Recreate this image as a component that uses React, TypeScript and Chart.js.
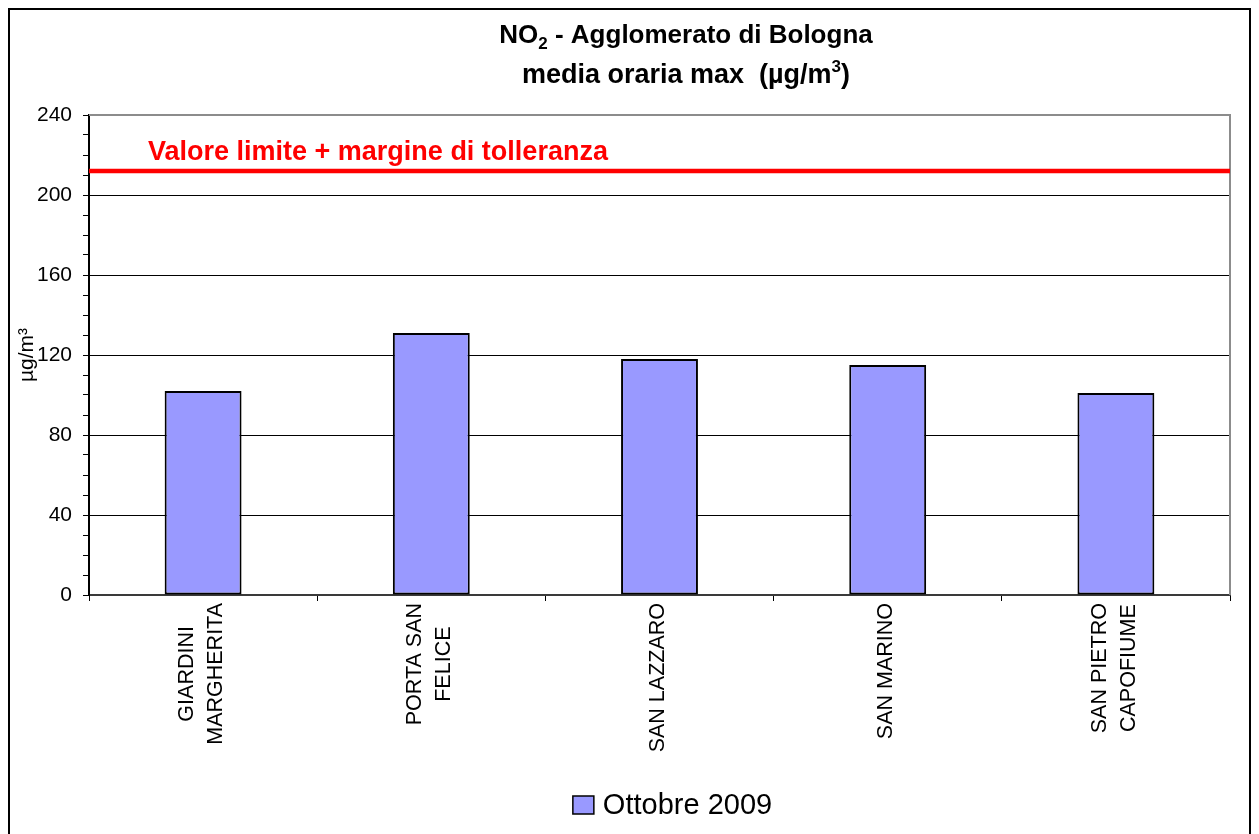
import React, { useEffect, useRef } from 'react';
import { Chart, registerables } from 'chart.js';

Chart.register(...registerables);

// ---- data ----
const categories: string[][] = [
  ['GIARDINI', 'MARGHERITA'],
  ['PORTA SAN', 'FELICE'],
  ['SAN LAZZARO'],
  ['SAN MARINO'],
  ['SAN PIETRO', 'CAPOFIUME'],
];
const seriesLabel = 'Ottobre 2009';
const values = [102, 131, 118, 115, 101];
const limitValue = 212;
const limitLabel = 'Valore limite + margine di tolleranza';
const yMin = 0;
const yMax = 240;
const yMajorStep = 40;
const yMinorStep = 10;
const yAxisTitle = 'µg/m³';
const titleLine1 = [{ t: 'NO' }, { t: '2', sub: true }, { t: ' - Agglomerato di Bologna' }];
const titleLine2 = [{ t: 'media oraria max  (µg/m' }, { t: '3', sup: true }, { t: ')' }];

const FF = '"Liberation Sans", Arial, Helvetica, sans-serif';
const W = 1243;
const H = 826;

type Run = { t: string; sub?: boolean; sup?: boolean };

function drawRuns(ctx: CanvasRenderingContext2D, runs: Run[], cx: number, baseline: number, size: number) {
  const big = `bold ${size}px ${FF}`;
  const small = `bold ${Math.round(size * 0.64)}px ${FF}`;
  let total = 0;
  const widths = runs.map((r) => {
    ctx.font = r.sub || r.sup ? small : big;
    const w = ctx.measureText(r.t).width;
    total += w;
    return w;
  });
  let x = cx - total / 2;
  ctx.textAlign = 'left';
  ctx.textBaseline = 'alphabetic';
  runs.forEach((r, i) => {
    ctx.font = r.sub || r.sup ? small : big;
    const dy = r.sub ? size * 0.22 : r.sup ? -size * 0.42 : 0;
    ctx.fillText(r.t, x, baseline + dy);
    x += widths[i];
  });
}

const decorPlugin = {
  id: 'decor',
  beforeDraw(chart: any) {
    const ctx = chart.ctx as CanvasRenderingContext2D;
    ctx.save();
    ctx.fillStyle = '#ffffff';
    ctx.fillRect(0, 0, W, H);
    ctx.strokeStyle = '#000000';
    ctx.lineWidth = 2;
    ctx.beginPath();
    ctx.moveTo(1, H + 5);
    ctx.lineTo(1, 1);
    ctx.lineTo(W - 1, 1);
    ctx.lineTo(W - 1, H + 5);
    ctx.stroke();
    ctx.restore();
  },
  beforeDatasetsDraw(chart: any) {
    const ctx = chart.ctx as CanvasRenderingContext2D;
    const a = chart.chartArea;
    ctx.save();
    ctx.strokeStyle = '#8c8c8c';
    ctx.lineWidth = 2;
    ctx.beginPath();
    ctx.moveTo(a.left, a.top);
    ctx.lineTo(a.right, a.top);
    ctx.lineTo(a.right, a.bottom);
    ctx.stroke();
    ctx.restore();
  },
  afterDraw(chart: any) {
    const ctx = chart.ctx as CanvasRenderingContext2D;
    const a = chart.chartArea;
    const xs = chart.scales.x;
    const ys = chart.scales.y;
    ctx.save();
    // title
    ctx.fillStyle = '#000000';
    drawRuns(ctx, titleLine1, 678, 35, 26);
    drawRuns(ctx, titleLine2, 678, 75, 27);

    // limit label
    ctx.fillStyle = '#ff0000';
    ctx.font = `bold 27px ${FF}`;
    ctx.textAlign = 'left';
    ctx.textBaseline = 'alphabetic';
    ctx.fillText(limitLabel, a.left + 59, ys.getPixelForValue(limitValue) - 11);

    // category labels (rotated, lines centred)
    ctx.fillStyle = '#000000';
    ctx.font = `21.5px ${FF}`;
    categories.forEach((lines, i) => {
      const px = xs.getPixelForValue(i);
      const L = Math.max(...lines.map((l) => ctx.measureText(l).width));
      ctx.save();
      ctx.translate(px - 1.5, a.bottom + 8 + L / 2);
      ctx.rotate(-Math.PI / 2);
      ctx.textAlign = 'center';
      ctx.textBaseline = 'middle';
      lines.forEach((l, j) => ctx.fillText(l, 0, (j - (lines.length - 1) / 2) * 29.5));
      ctx.restore();
    });

    // legend
    const ds = chart.data.datasets[0];
    ctx.font = `29px ${FF}`;
    const tw = ctx.measureText(ds.label).width;
    const boxW = 21;
    const boxH = 18;
    const gap = 9;
    const total = boxW + gap + tw;
    const lx = 664.5 - total / 2;
    const ly = 797;
    ctx.fillStyle = ds.backgroundColor;
    ctx.fillRect(lx, ly - boxH / 2, boxW, boxH);
    ctx.strokeStyle = '#000000';
    ctx.lineWidth = 1.5;
    ctx.strokeRect(lx, ly - boxH / 2, boxW, boxH);
    ctx.fillStyle = '#000000';
    ctx.textAlign = 'left';
    ctx.textBaseline = 'middle';
    ctx.fillText(ds.label, lx + boxW + gap, ly + 1);
    ctx.restore();
  },
};

export default function App() {
  const ref = useRef<HTMLCanvasElement | null>(null);

  useEffect(() => {
    document.documentElement.style.overflow = 'hidden';
    const canvas = ref.current;
    if (!canvas) return;
    const chart = new Chart(canvas, {
      type: 'bar',
      data: {
        labels: categories as any,
        datasets: [
          {
            type: 'bar',
            label: seriesLabel,
            data: values,
            backgroundColor: '#9999ff',
            borderColor: '#000000',
            borderWidth: 2,
            borderSkipped: false,
            barPercentage: 0.337,
            categoryPercentage: 1,
            grouped: false,
            xAxisID: 'x',
            order: 2,
          } as any,
          {
            type: 'line',
            label: limitLabel,
            data: [
              { x: 0, y: limitValue },
              { x: 1, y: limitValue },
            ],
            xAxisID: 'xl',
            borderColor: '#ff0000',
            borderWidth: 4.5,
            pointRadius: 0,
            fill: false,
            order: 1,
          } as any,
        ],
      },
      options: {
        responsive: false,
        animation: false,
        devicePixelRatio: 1,
        layout: { padding: { top: 107, right: 21, bottom: 0, left: 0 } },
        plugins: {
          legend: { display: false },
          tooltip: { enabled: false },
          title: { display: false },
        },
        scales: {
          x: {
            type: 'category',
            offset: true,
            grid: {
              offset: true,
              drawOnChartArea: false,
              drawTicks: true,
              tickLength: 6,
              tickColor: '#000000',
              tickWidth: 1,
            },
            border: { display: true, color: '#3a3a3a', width: 2 },
            ticks: { display: false },
            afterFit: (s: any) => {
              s.height = 239;
            },
          },
          xl: {
            type: 'linear',
            display: false,
            offset: false,
            grid: { offset: false },
            min: 0,
            max: 1,
          },
          y: {
            type: 'linear',
            min: yMin,
            max: yMax,
            ticks: {
              stepSize: yMinorStep,
              autoSkip: false,
              padding: 11,
              color: '#000000',
              font: { family: FF, size: 21 },
              callback: (v: any) => (Number(v) % yMajorStep === 0 ? String(v) : ''),
            },
            grid: {
              color: (c: any) =>
                c.tick && c.tick.value % yMajorStep === 0 && c.tick.value > yMin && c.tick.value < yMax
                  ? '#000000'
                  : 'rgba(0,0,0,0)',
              lineWidth: 1,
              tickLength: 6,
              tickColor: '#000000',
              tickWidth: 1,
            },
            border: { display: true, color: '#000000', width: 2 },
            title: {
              display: true,
              text: yAxisTitle,
              color: '#000000',
              font: { family: FF, size: 21 },
              padding: { top: 7, bottom: 0 },
            },
            afterFit: (s: any) => {
              s.width = 81;
            },
          },
        },
      } as any,
      plugins: [decorPlugin],
    });
    return () => chart.destroy();
  }, []);

  return (
    <div style={{ width: W, height: H }}>
      <canvas ref={ref} width={W} height={H} style={{ display: 'block', width: W, height: H }} />
    </div>
  );
}
